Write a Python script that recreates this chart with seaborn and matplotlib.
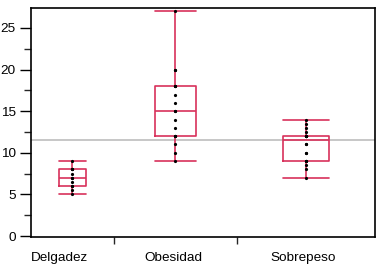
import numpy as np
import pandas as pd
import matplotlib
matplotlib.use("Agg")
import matplotlib.pyplot as plt
import seaborn as sns

# ---- data ----
categories = ["Delgadez", "Obesidad", "Sobrepeso"]
delgadez = [5, 5.5, 6, 6, 6.5, 7, 7, 7.5, 8, 8, 8, 9]
obesidad = [9, 10, 11, 12, 12, 12, 13, 14, 15, 15, 16, 17, 18, 18, 18, 20, 20, 27]
sobrepeso = [7, 8, 8.5, 9, 9, 9, 10, 10, 11, 11, 12, 12, 12, 12, 12, 12, 12.5, 13, 13.5, 14]
yticks = [0, 5, 10, 15, 20, 25]

groups = [delgadez, obesidad, sobrepeso]

sns.set_style("white")
plt.rcParams["font.family"] = ["Liberation Sans", "DejaVu Sans"]

RED = "#d8315b"
GREY = "#bdbdbd"

fig = plt.figure(figsize=(3.88, 2.70), dpi=100)
ax = fig.add_axes([31 / 388, 33 / 270, 344 / 388, 229 / 270])

# group widths proportional to sample size (JMP style)
counts = np.array([len(g) for g in groups], dtype=float)
widths = counts / counts.sum()
edges = np.concatenate([[0], np.cumsum(widths)])
centers = (edges[:-1] + edges[1:]) / 2

all_vals = np.concatenate([np.asarray(g, float) for g in groups])
ax.axhline(all_vals.mean(), color=GREY, lw=1.2, zorder=0.5)

for i, vals in enumerate(groups):
    df = pd.DataFrame({"pos": np.full(len(vals), centers[i]), "value": vals})
    bw = widths[i] / 3
    sns.boxplot(data=df, x="pos", y="value", native_scale=True, width=bw,
                fill=False, color=RED, linewidth=1.2, whis=1.5,
                showfliers=False, capwidths=bw, ax=ax, zorder=2)
    sns.stripplot(data=df, x="pos", y="value", native_scale=True, jitter=False,
                  color="black", size=2.3, linewidth=0, ax=ax, zorder=3)

ax.set_xlim(0, 1)
ax.set_ylim(-0.12, 27.4)
ax.set_xlabel("")
ax.set_ylabel("")

# y axis
ax.set_yticks(yticks)
ax.set_yticks(np.arange(2.5, 27, 5), minor=True)
ax.tick_params(axis="y", which="major", length=8, width=1, pad=3,
               labelsize=9.7, colors="black", left=True, direction="out")
ax.tick_params(axis="y", which="minor", length=5, width=1, left=True,
               direction="out")

# x axis: boundary ticks (minor) and labels (major, no tick mark)
ax.set_xticks(list(edges[:-1]), minor=True)
label_pos = [0.0, centers[1] - 0.006, centers[2] - 0.009]
ax.set_xticks(label_pos, categories)
ax.tick_params(axis="x", which="major", length=0, pad=11, labelsize=9.7,
               colors="black")
ax.tick_params(axis="x", which="minor", length=5, width=1, bottom=True,
               direction="out")
labs = ax.get_xticklabels()
labs[0].set_ha("left")

for s in ax.spines.values():
    s.set_visible(True)
    s.set_color("black")
    s.set_linewidth(1.2)

fig.savefig("out.png", dpi=100)
